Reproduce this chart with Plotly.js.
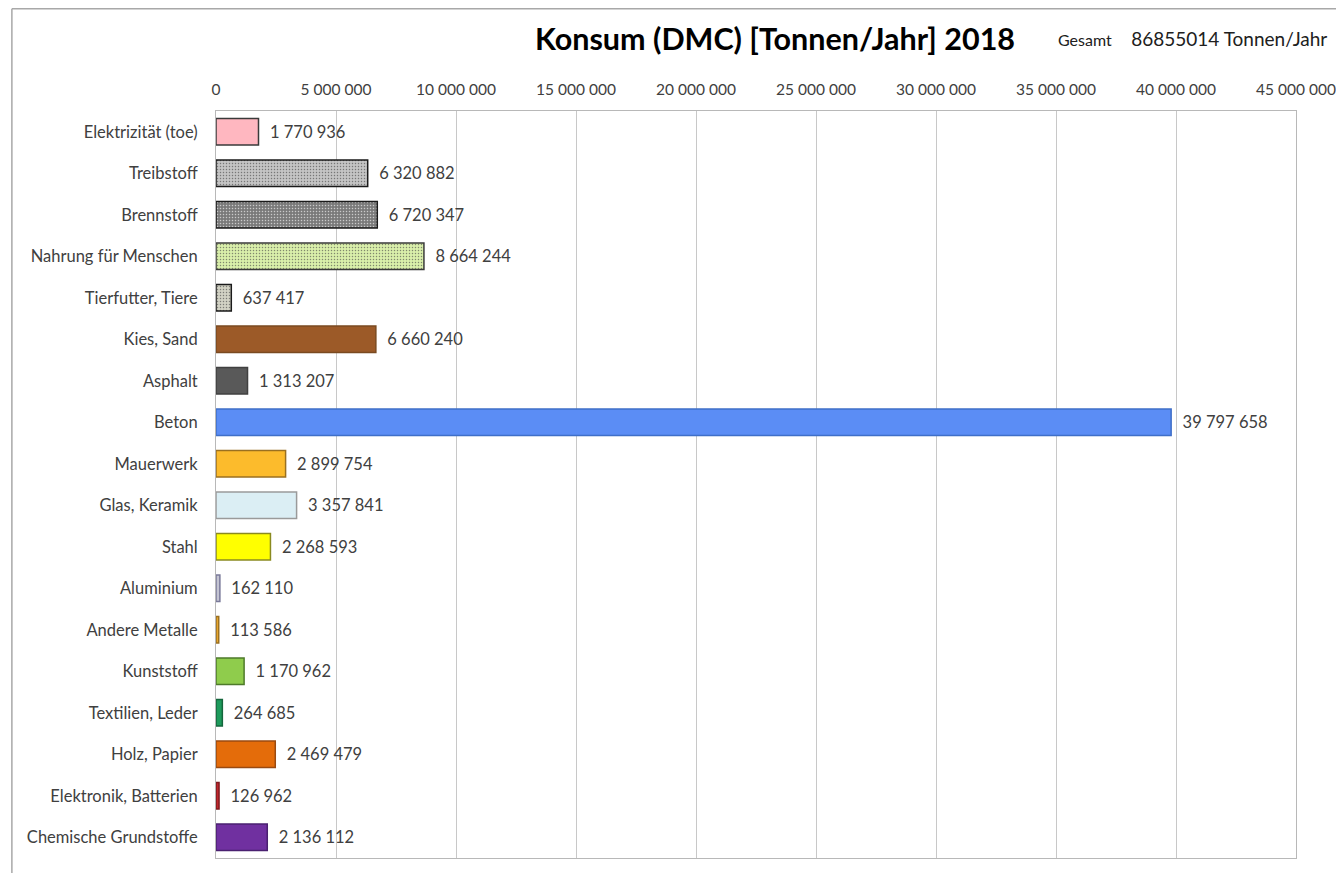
<!DOCTYPE html>
<html>
<head>
<meta charset="utf-8">
<script src="https://cdn.plot.ly/plotly-3.0.1.min.js"></script>
<style>html,body{margin:0;padding:0;background:#fff;}#chart{width:1336px;height:873px;}</style>
</head>
<body>
<div id="chart"></div>
<script>
const categories = ["Elektrizität (toe)","Treibstoff","Brennstoff","Nahrung für Menschen","Tierfutter, Tiere","Kies, Sand","Asphalt","Beton","Mauerwerk","Glas, Keramik","Stahl","Aluminium","Andere Metalle","Kunststoff","Textilien, Leder","Holz, Papier","Elektronik, Batterien","Chemische Grundstoffe"];
const values = [1770936,6320882,6720347,8664244,637417,6660240,1313207,39797658,2899754,3357841,2268593,162110,113586,1170962,264685,2469479,126962,2136112];
const fillColors = ["#FFB7C0","#C4C4C4","#7A7A7A","#D9EFAA","#D2D2C4","#9C5A28","#595959","#5B8DF5","#FCBB2C","#DBEEF4","#FFFF00","#C4C4D2","#E8A732","#8FCC4C","#1E9A5C","#E46C0A","#C0282E","#7030A0"];
const dotColors = ["#FFB7C0","#8A8A8A","#3A3A3A","#A8C878","#909080","#9C5A28","#595959","#5B8DF5","#FCBB2C","#DBEEF4","#FFFF00","#C4C4D2","#E8A732","#8FCC4C","#1E9A5C","#E46C0A","#C0282E","#7030A0"];
const lineColors = ["#3A3A3A","#1A1A1A","#1A1A1A","#3A3A3A","#1A1A1A","#7A4A20","#404040","#3F6FC8","#9A7020","#9A9A9A","#8A8A20","#7A7A9A","#9A7020","#4E7A2A","#14663C","#9A4A10","#801A1E","#4A2070"];
const patternShapes = ["",".",".",".",".","","","","","","","","","","","","",""];
const total = "86855014";

const FONT = "Lato, 'Noto Sans', sans-serif";

const trace = {
  type: "bar",
  orientation: "h",
  y: categories,
  x: values,
  width: 0.64,
  marker: {
    color: fillColors,
    line: {color: lineColors, width: 1.5},
    pattern: {shape: patternShapes, fillmode: "overlay", fgcolor: dotColors, fgopacity: 0.6, size: 3, solidity: 0.2}
  },
  texttemplate: "\u00a0\u00a0%{x:,d}",
  textposition: "outside",
  cliponaxis: false,
  textfont: {family: FONT, size: 16.5, color: "#404040"},
  hoverinfo: "y+x"
};

const layout = {
  width: 1336, height: 873,
  margin: {l: 216, r: 40, t: 111, b: 15},
  paper_bgcolor: "#ffffff",
  plot_bgcolor: "#ffffff",
  separators: ", ",
  showlegend: false,
  bargap: 0.36,
  font: {family: FONT, color: "#404040"},
  title: {
    text: "<b>Konsum (DMC) [Tonnen/Jahr] 2018</b>",
    font: {family: FONT, size: 30.5, color: "#000000"},
    x: 0.5176, xanchor: "center", xref: "paper",
    y: 0.955, yanchor: "middle"
  },
  xaxis: {
    side: "top",
    range: [0, 45000000],
    tickvals: [0,5000000,10000000,15000000,20000000,25000000,30000000,35000000,40000000,45000000],
    tickformat: ",d",
    ticklabeloverflow: "allow",
    showgrid: true,
    gridcolor: "#c8c8c8",
    gridwidth: 1,
    zeroline: false,
    showline: true,
    linecolor: "#b8b8b8",
    mirror: true,
    ticks: "",
    ticklabelstandoff: 9,
    tickfont: {size: 15.5, color: "#404040"},
    fixedrange: true
  },
  yaxis: {
    autorange: "reversed",
    showline: true,
    linecolor: "#b8b8b8",
    mirror: true,
    ticks: "",
    ticklabelstandoff: 14,
    tickfont: {size: 16.5, color: "#404040"},
    showgrid: false,
    fixedrange: true
  },
  shapes: [
    {type: "line", xref: "paper", yref: "paper", x0: -0.189, x1: 1.1, y0: 1.137, y1: 1.137, line: {color: "#a8a8a8", width: 1.5}},
    {type: "line", xref: "paper", yref: "paper", x0: -0.189, x1: -0.189, y0: 1.137, y1: -0.1, line: {color: "#a8a8a8", width: 1.5}}
  ],
  annotations: [
    {text: "<span style='font-size:16px'>Gesamt</span>    " + total + " Tonnen/Jahr", xref: "paper", yref: "paper", x: 0.778, y: 1.097, xanchor: "left", yanchor: "middle", showarrow: false, font: {family: FONT, size: 19, color: "#202020"}}
  ]
};

Plotly.newPlot("chart", [trace], layout, {displayModeBar: false, staticPlot: true});
</script>
</body>
</html>
